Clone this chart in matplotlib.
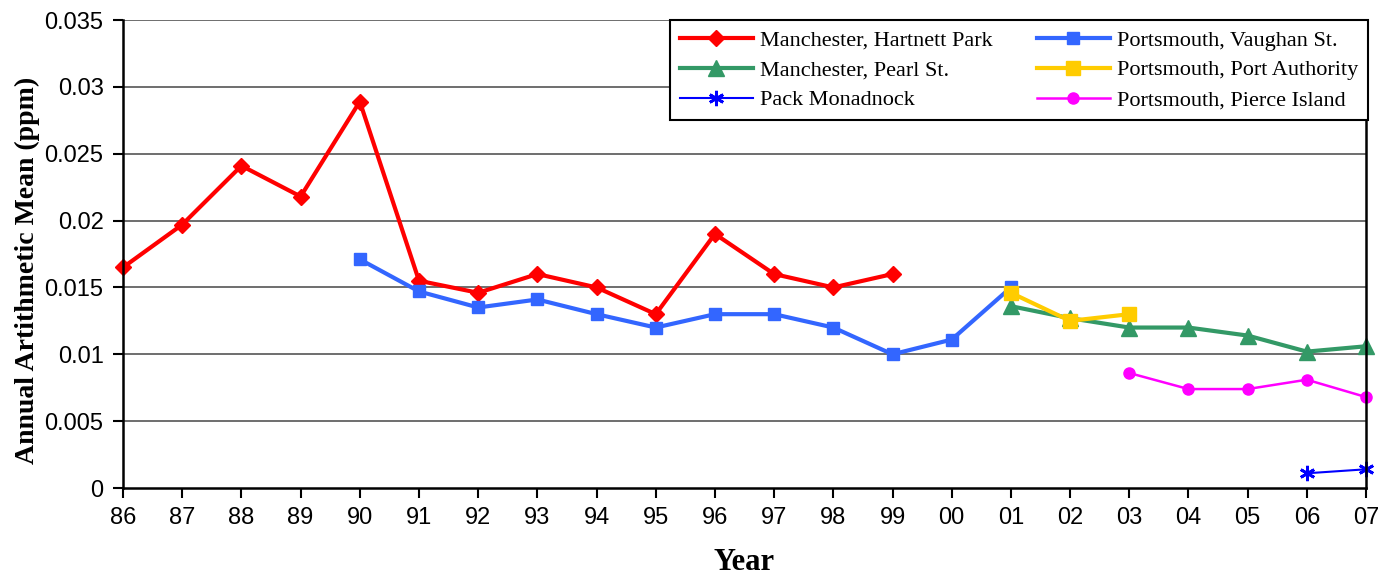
import numpy as np
import matplotlib.pyplot as plt

anios = ['86', '87', '88', '89', '90', '91', '92', '93', '94', '95', '96',
         '97', '98', '99', '00', '01', '02', '03', '04', '05', '06', '07']

# cada serie empieza en el anio indicado
hartnett = [0.0165, 0.0197, 0.0241, 0.0218, 0.0289, 0.0155, 0.0146, 0.0160,
            0.0150, 0.0130, 0.0190, 0.0160, 0.0150, 0.0160]          # 86-99
vaughan = [0.0171, 0.0147, 0.0135, 0.0141, 0.0130, 0.0120, 0.0130, 0.0130,
           0.0120, 0.0100, 0.0111, 0.0150]                          # 90-01
pearl = [0.0136, 0.0127, 0.0120, 0.0120, 0.0114, 0.0102, 0.0106]    # 01-07
portAuthority = [0.0146, 0.0125, 0.0130]                            # 01-03
pierce = [0.0086, 0.0074, 0.0074, 0.0081, 0.0068]                   # 03-07
pack = [0.0011, 0.0014]                                             # 06-07

def posiciones(inicio, valores):
    i = anios.index(inicio)
    return list(range(i, i + len(valores)))

fig = plt.figure(figsize=(13.78, 5.75), dpi=100)
ax = fig.add_axes([0.0893, 0.1513, 0.9020, 0.8139])

for y in np.arange(0.005, 0.0351, 0.005):
    ax.axhline(y, color='#555555', lw=1.2, zorder=0)

l1, = ax.plot(posiciones('86', hartnett), hartnett, color='#ff0000', lw=3,
              marker='D', ms=8, label='Manchester, Hartnett Park', clip_on=False)
l4, = ax.plot(posiciones('90', vaughan), vaughan, color='#3366ff', lw=3,
              marker='s', ms=8, label='Portsmouth, Vaughan St.', clip_on=False)
l2, = ax.plot(posiciones('01', pearl), pearl, color='#339966', lw=3,
              marker='^', ms=11, label='Manchester, Pearl St.', clip_on=False)
l5, = ax.plot(posiciones('01', portAuthority), portAuthority, color='#ffcc00', lw=3,
              marker='s', ms=10, label='Portsmouth, Port Authority', clip_on=False)
l6, = ax.plot(posiciones('03', pierce), pierce, color='#ff00ff', lw=1.8,
              marker='o', ms=8, label='Portsmouth, Pierce Island', clip_on=False)
l3, = ax.plot(posiciones('06', pack), pack, color='#0000ff', lw=1.5,
              marker=(6, 2, 0), ms=11, mew=2, label='Pack Monadnock', clip_on=False)

ax.set_xlim(0, len(anios) - 1)
ax.set_ylim(0, 0.035)
ax.set_xticks(range(len(anios)))
ax.set_xticklabels(anios)
ax.set_yticks(np.arange(0, 0.0351, 0.005))
ax.set_yticklabels(['0', '0.005', '0.01', '0.015', '0.02', '0.025', '0.03', '0.035'])
for lbl in ax.get_xticklabels() + ax.get_yticklabels():
    lbl.set_family('Liberation Sans')
    lbl.set_fontsize(17)
ax.tick_params(axis='both', direction='out', length=7, width=1.5, pad=7)

ax.spines['top'].set_visible(False)
for s in ['left', 'bottom', 'right']:
    ax.spines[s].set_linewidth(1.8)

ax.set_xlabel('Year', family='Liberation Serif', fontweight='bold', fontsize=22, labelpad=13)
ax.set_ylabel('Annual Artithmetic Mean (ppm)', family='Liberation Serif',
              fontweight='bold', fontsize=20)
ax.yaxis.set_label_coords(-0.067, 0.466)

leg = ax.legend(handles=[l1, l2, l3, l4, l5, l6], ncol=2, loc='upper right',
                bbox_to_anchor=(1.0016, 1.0), borderaxespad=0, fancybox=False,
                framealpha=1, edgecolor='black',
                prop={'family': 'Liberation Serif', 'size': 16},
                handlelength=3.3, columnspacing=2.0, labelspacing=0.42,
                borderpad=0.45, handletextpad=0.3)
leg.get_frame().set_linewidth(1.5)

plt.savefig('out.png', dpi=100)
